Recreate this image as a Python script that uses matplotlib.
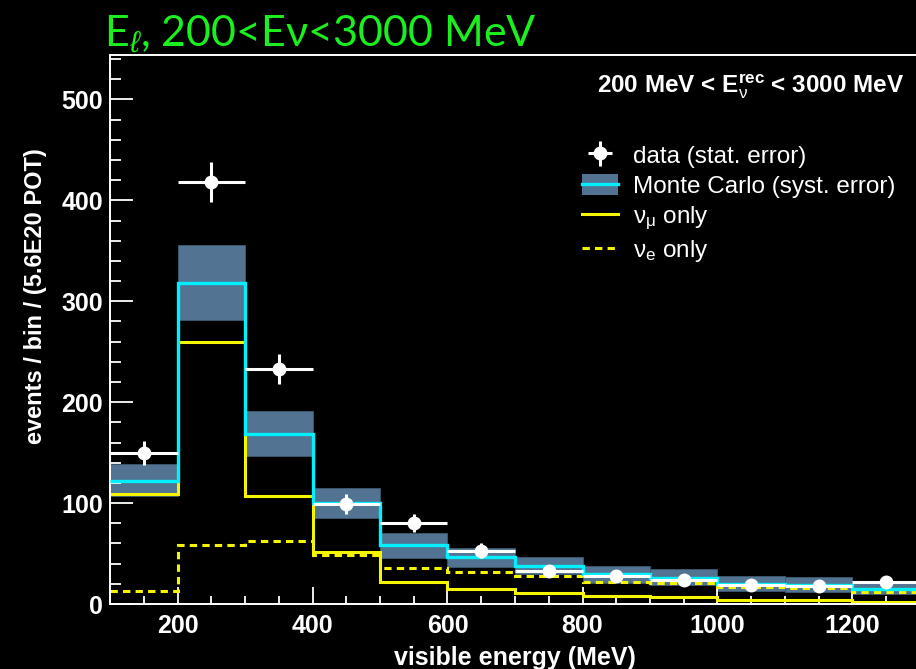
import matplotlib
matplotlib.use('Agg')
import matplotlib.pyplot as plt
from matplotlib.patches import Patch
from matplotlib.lines import Line2D
from matplotlib.ticker import MultipleLocator
import numpy as np

# 100 MeV bins of visible energy
bin_edges = [100, 200, 300, 400, 500, 600, 700, 800, 900, 1000, 1100, 1200, 1300]
bin_centers = [150, 250, 350, 450, 550, 650, 750, 850, 950, 1050, 1150, 1250]

data_counts = [150, 418, 233, 99, 80, 53, 33, 28, 24, 19, 18, 22]
data_errors = [12, 20, 15, 10, 9, 7, 6, 5, 5, 4, 4, 5]

mc_total = [122, 318, 168, 100, 58, 47, 38, 30, 26, 20, 19, 15]
mc_syst_hi = [139, 356, 191, 115, 70, 55, 47, 38, 35, 28, 27, 23]
mc_syst_lo = [107, 281, 147, 85, 46, 37, 30, 21, 19, 13, 12, 10]

numu_only = [109, 260, 107, 52, 22, 14.5, 11, 8, 7, 4, 4, 2.3]
nue_only = [13, 58, 62, 49, 36, 32, 28, 21.5, 20.5, 16.5, 15.5, 11.5]

BAND = '#527391'
CYAN = '#00f0ff'
YELLOW = '#f5f500'
GREEN = '#19f01e'
DASH = (0, (2.4, 1.7))

plt.rcParams['mathtext.fontset'] = 'custom'
plt.rcParams['mathtext.rm'] = 'Liberation Sans'
plt.rcParams['mathtext.it'] = 'Liberation Sans:italic'
plt.rcParams['mathtext.bf'] = 'Liberation Sans:bold'

fig = plt.figure(figsize=(9.16, 6.69), dpi=100, facecolor='black')
ax = fig.add_axes([110 / 916, 65 / 669, 810 / 916, 549 / 669], facecolor='black')

# systematic error band of the Monte Carlo
band_h = np.array(mc_syst_hi) - np.array(mc_syst_lo)
ax.bar(bin_edges[:-1], band_h, bottom=mc_syst_lo, width=100, align='edge',
       color=BAND, edgecolor='#3e5a72', linewidth=0.6, zorder=1)

ax.stairs(nue_only, bin_edges, baseline=None, color=YELLOW, lw=2.2,
          linestyle=DASH, zorder=2)
ax.stairs(numu_only, bin_edges, baseline=None, color=YELLOW, lw=2.2, zorder=2)
ax.stairs(mc_total, bin_edges, baseline=None, color=CYAN, lw=2.4, zorder=3)

data_h = ax.errorbar(bin_centers, data_counts, xerr=50, yerr=data_errors,
                     fmt='o', color='white', ms=9, elinewidth=2.2, capsize=0,
                     zorder=4)

ax.set_xlim(100, 1300)
ax.set_ylim(0, 544)

ax.xaxis.set_major_locator(MultipleLocator(200))
ax.xaxis.set_minor_locator(MultipleLocator(50))
ax.yaxis.set_major_locator(MultipleLocator(100))
ax.yaxis.set_minor_locator(MultipleLocator(20))

for s in ['left', 'bottom', 'top', 'right']:
    ax.spines[s].set_color('white')
    ax.spines[s].set_linewidth(1.4)

ax.tick_params(axis='both', which='both', direction='in', colors='white',
               width=1.3, top=False, right=False)
ax.tick_params(axis='y', which='major', length=16.5, pad=5)
ax.tick_params(axis='y', which='minor', length=8)
ax.tick_params(axis='x', which='major', length=12, pad=7)
ax.tick_params(axis='x', which='minor', length=6)

for lab in ax.get_xticklabels() + ax.get_yticklabels():
    lab.set_fontfamily('Liberation Sans')
    lab.set_fontweight('bold')
    lab.set_fontsize(18)
    lab.set_color('white')

ax.set_xlabel('visible energy (MeV)', family='Liberation Sans', weight='bold',
              fontsize=18, color='white', labelpad=6)
ax.set_ylabel('events / bin / (5.6E20 POT)', family='Liberation Sans',
              weight='bold', fontsize=17, color='white')
ax.yaxis.set_label_coords(-0.078, 0.56)

fig.text(104 / 916, 1 - 46 / 669, r'E$_{\ell}$, 200<Eν<3000 MeV', family='Lato',
         fontsize=31, color=GREEN, ha='left', va='baseline')

fig.text(904 / 916, 1 - 87 / 669, r'200 MeV < E$_{\mathrm{\nu}}^{\mathbf{rec}}$ < 3000 MeV',
         family='Liberation Sans', weight='bold', fontsize=17.5, color='white',
         ha='right', va='center')

handles = [
    data_h,
    (Patch(facecolor=BAND, edgecolor='none'), Line2D([], [], color=CYAN, lw=2.4)),
    Line2D([], [], color=YELLOW, lw=2.2),
    Line2D([], [], color=YELLOW, lw=2.2, linestyle=DASH),
]
labels = ['data (stat. error)', 'Monte Carlo (syst. error)',
          r'$\mathrm{\nu_{\mu}}$ only', r'$\mathrm{\nu_{e}}$ only']
leg = fig.legend(handles, labels, loc='upper left',
                 bbox_to_anchor=(582 / 916, 1 - 144 / 669), frameon=False,
                 prop={'family': 'Liberation Sans', 'size': 17.5},
                 labelcolor='white', handlelength=1.48, handleheight=0.95,
                 handletextpad=0.62, labelspacing=0.26, borderpad=0,
                 borderaxespad=0)

fig.savefig('out.png', dpi=100, facecolor='black')
